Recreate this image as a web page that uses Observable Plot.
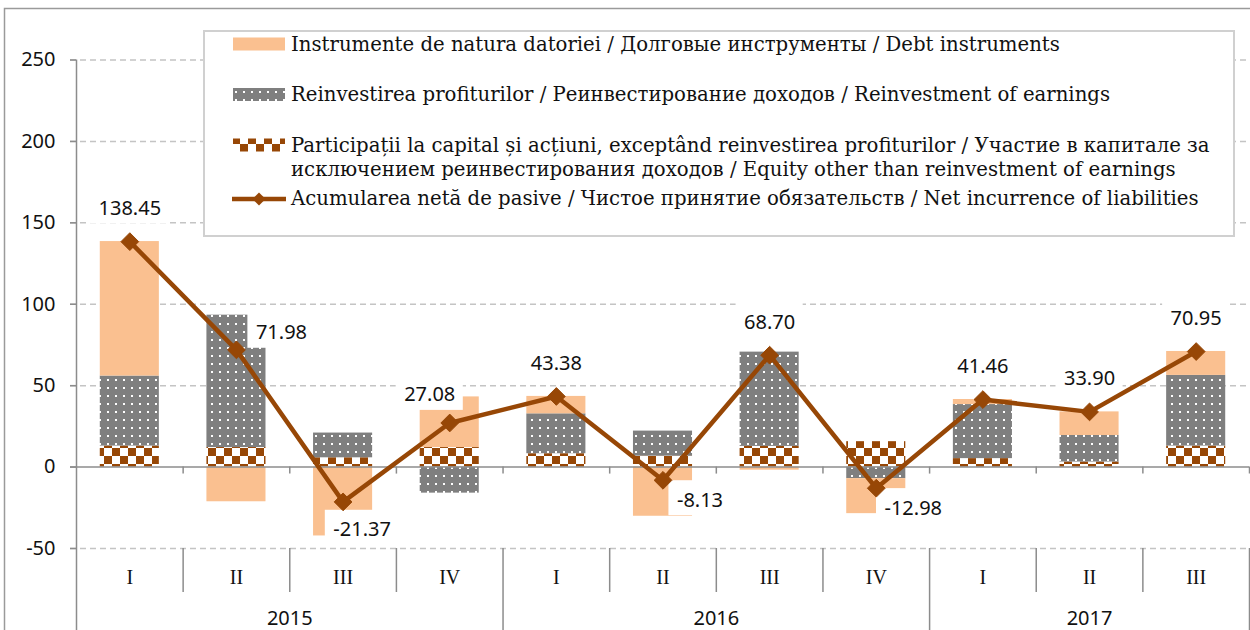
<!DOCTYPE html>
<html>
<head>
<meta charset="utf-8">
<script src="https://cdn.jsdelivr.net/npm/d3@7"></script>
<script src="https://cdn.jsdelivr.net/npm/@observablehq/plot@0.6"></script>
<style>
  body { margin: 0; background: #fff; }
  #wrap { position: relative; width: 1250px; height: 630px; overflow: hidden; }
  #wrap svg.overlay { position: absolute; left: 0; top: 0; pointer-events: none; }
  #chart { position: absolute; left: 0; top: 0; }
</style>
</head>
<body>
<svg width="0" height="0" style="position:absolute">
  <defs>
    <pattern id="dots" patternUnits="userSpaceOnUse" width="8" height="8">
      <rect width="8" height="8" fill="#7f7f7f"></rect>
      <rect x="3" y="3" width="2" height="2" fill="#ffffff"></rect>
    </pattern>
    <pattern id="checks" patternUnits="userSpaceOnUse" width="16" height="16">
      <rect width="16" height="16" fill="#ffffff"></rect>
      <rect x="0" y="0" width="8" height="8" fill="#974706"></rect>
      <rect x="8" y="8" width="8" height="8" fill="#974706"></rect>
    </pattern>
  </defs>
</svg>
<div id="wrap"><div id="chart"></div></div>
<script>
// ---------- data ----------
const quarters = ["I", "II", "III", "IV", "I", "II", "III", "IV", "I", "II", "III"];
const years = ["2015", "2015", "2015", "2015", "2016", "2016", "2016", "2016", "2017", "2017", "2017"];
const equity = [12.9, 12.0, 5.7, 12.0, 8.2, 6.7, 12.7, 15.6, 5.2, 3.1, 12.9];
const reinvestment = [43.0, 81.3, 15.2, -16.0, 24.5, 15.4, 57.9, -7.1, 33.2, 16.3, 43.4];
const debt = [82.6, -21.3, -42.3, 31.1, 10.7, -30.2, -1.9, -21.5, 3.1, 14.5, 14.7];
const netLiabilities = [138.45, 71.98, -21.37, 27.08, 43.38, -8.13, 68.70, -12.98, 41.46, 33.90, 70.95];
const labelPlacement = ["above", "right", "below", "above-left", "above", "below-right", "above", "below-right", "above", "above", "above"];
const yTicks = [-50, 0, 50, 100, 150, 200, 250];
const seriesNames = [
  "Participații la capital și acțiuni, exceptând reinvestirea profiturilor / Участие в капитале за исключением реинвестирования доходов / Equity other than reinvestment of earnings",
  "Reinvestirea profiturilor / Реинвестирование доходов / Reinvestment of earnings",
  "Instrumente de natura datoriei / Долговые инструменты / Debt instruments"
];
const lineName = "Acumularea netă de pasive / Чистое принятие обязательств / Net incurrence of liabilities";

// ---------- styles ----------
const BROWN = "#974706";
const PEACH = "#fac090";
const GRID = "#c4c4c4";
const AXIS = "#8c8c8c";
const NUMFONT = "'Noto Sans', 'Open Sans', sans-serif";
const SERIF = "'Liberation Serif', serif";
const LEGFONT = "'DejaVu Serif', serif";
const LEGSIZE = 19.7;
const halfBar = 0.277;
const offsets = {
  "above": [0, -33],
  "right": [45, -17],
  "below": [19, 28],
  "above-left": [-20, -28],
  "below-right": [37, 20]
};

// ---------- tables ----------
const idx = quarters.map((_, i) => i);
const fills = ["url(#checks)", "url(#dots)", PEACH];
const stacked = [];
[equity, reinvestment, debt].forEach((arr, s) => {
  arr.forEach((v, i) => stacked.push({i, s, value: v}));
});
const points = idx.map(i => ({
  i, v: netLiabilities[i],
  label: netLiabilities[i].toFixed(2),
  dx: offsets[labelPlacement[i]][0],
  dy: offsets[labelPlacement[i]][1]
}));
const qTable = idx.map(i => ({i, q: quarters[i]}));
const yearGroups = Array.from(d3.group(idx, i => years[i]), ([y, ids]) => ({
  year: y, center: d3.mean(ids), start: d3.min(ids) - 0.5
}));
const boundaries = d3.range(quarters.length + 1).map(k => k - 0.5);
const yearBoundaries = yearGroups.map(g => g.start).concat([quarters.length - 0.5]);
const quarterBoundaries = boundaries.filter(b => !yearBoundaries.includes(b));

const chart = Plot.plot({
  width: 1250,
  height: 630,
  marginLeft: 76,
  marginRight: 1,
  marginTop: 59.5,
  marginBottom: 82,
  style: {fontFamily: NUMFONT, fontSize: "20px", color: "#111", background: "transparent"},
  x: {type: "linear", domain: [-0.5, quarters.length - 0.5], axis: null},
  y: {domain: [-50, 250], axis: null},
  color: {type: "ordinal", domain: [0, 1, 2], range: fills},
  marks: [
    Plot.ruleY(yTicks.filter(t => t !== 0), {stroke: GRID, strokeWidth: 1.5, strokeDasharray: "6,4", insetLeft: -6}),
    Plot.rectY(stacked, Plot.stackY({
      x1: d => d.i - halfBar, x2: d => d.i + halfBar, y: "value", fill: "s", order: null
    })),
    Plot.ruleY([0], {stroke: AXIS, strokeWidth: 1.5, insetLeft: -6}),
    Plot.ruleX(boundaries.slice(1), {y1: 0, y2: 0, insetBottom: -7, stroke: AXIS, strokeWidth: 1.5}),
    Plot.axisY({ticks: yTicks, tickFormat: d => String(d), tickSize: 6, tickPadding: 15, label: null, stroke: AXIS, strokeWidth: 1.5, fontSize: 20, fontFamily: NUMFONT, fill: "#111"}),
    Plot.ruleX([boundaries[0]], {y1: 250, y2: -50, insetBottom: -82, stroke: AXIS, strokeWidth: 1.5}),
    Plot.ruleX(quarterBoundaries, {y1: -50, y2: -50, insetBottom: -44, stroke: AXIS, strokeWidth: 1.5}),
    Plot.ruleX(yearBoundaries.slice(1), {y1: -50, y2: -50, insetBottom: -82, stroke: AXIS, strokeWidth: 1.5}),
    Plot.text(qTable, {x: "i", y: () => -50, dy: 29, text: "q", fontFamily: SERIF, fontSize: 20, fill: "#111"}),
    Plot.text(yearGroups, {x: "center", y: () => -50, dy: 70, text: "year", fontFamily: NUMFONT, fontSize: 20, fill: "#111"}),
    Plot.line(points, {x: "i", y: "v", stroke: BROWN, strokeWidth: 4.5}),
    Plot.dot(points, {x: "i", y: "v", symbol: "diamond2", r: 8, fill: BROWN, stroke: BROWN, strokeWidth: 1}),
    Plot.text(points, {x: "i", y: "v", text: "label", className: "vlabel", fontFamily: NUMFONT, fontSize: 20, fill: "#111"})
  ]
});
document.getElementById("chart").appendChild(chart);

// per-point label offsets and white label boxes (drawn beneath the line)
const labelTexts = d3.select(chart).selectAll("g.vlabel text").nodes();
labelTexts.forEach((node, k) => {
  const p = points[k];
  const tr = node.getAttribute("transform") || "";
  node.setAttribute("transform", tr + ` translate(${p.dx},${p.dy})`);
});
const boxG = document.createElementNS("http://www.w3.org/2000/svg", "g");
labelTexts.forEach((node) => {
  const bb = node.getBBox();
  const tr = node.getAttribute("transform") || "";
  const r = document.createElementNS("http://www.w3.org/2000/svg", "rect");
  r.setAttribute("x", bb.x - 8);
  r.setAttribute("y", bb.y - 5);
  r.setAttribute("width", bb.width + 16);
  r.setAttribute("height", bb.height + 8);
  r.setAttribute("fill", "#ffffff");
  if (tr) r.setAttribute("transform", tr);
  boxG.appendChild(r);
});
const lineG = d3.select(chart).selectAll("[aria-label='line']").node();
if (lineG) lineG.parentNode.insertBefore(boxG, lineG);

// ---------- overlay: outer frame and legend ----------
const ov = d3.select("#wrap").append("svg").attr("class", "overlay").attr("width", 1250).attr("height", 630);
ov.append("path").attr("d", "M4.5,640 V8.5 H1260").attr("fill", "none").attr("stroke", "#9a9a9a").attr("stroke-width", 1.5);
const lgd = ov.append("g");
lgd.append("rect").attr("x", 204).attr("y", 31).attr("width", 1030).attr("height", 205)
  .attr("fill", "#fff").attr("stroke", "#d0d0d0").attr("stroke-width", 2);
const sw = {x: 233, w: 52, h: 13};
const textX = 291;
const items = [
  {name: seriesNames[2], fill: PEACH, base: 50.5},
  {name: seriesNames[1], fill: "url(#dots)", base: 101},
  {name: seriesNames[0], fill: "url(#checks)", base: 151.5, wrapAt: "за "},
];
items.forEach(it => {
  lgd.append("rect").attr("x", sw.x).attr("y", it.base - sw.h).attr("width", sw.w).attr("height", sw.h).attr("fill", it.fill);
  const t = lgd.append("text").attr("x", textX).attr("y", it.base)
    .attr("font-family", LEGFONT).attr("font-size", LEGSIZE).attr("fill", "#111");
  if (it.wrapAt) {
    const cut = it.name.indexOf(it.wrapAt) + it.wrapAt.length;
    t.append("tspan").attr("x", textX).text(it.name.slice(0, cut).trim());
    t.append("tspan").attr("x", textX).attr("dy", 24.5).text(it.name.slice(cut));
  } else {
    t.text(it.name);
  }
});
const lineY = 199;
lgd.append("line").attr("x1", 232).attr("x2", 286).attr("y1", lineY).attr("y2", lineY).attr("stroke", BROWN).attr("stroke-width", 4.5);
lgd.append("path").attr("d", d3.symbol(d3.symbolDiamond2, 110)()).attr("transform", `translate(259,${lineY})`).attr("fill", BROWN);
lgd.append("text").attr("x", textX).attr("y", 205).attr("font-family", LEGFONT).attr("font-size", LEGSIZE).attr("fill", "#111").text(lineName);
</script>
</body>
</html>
